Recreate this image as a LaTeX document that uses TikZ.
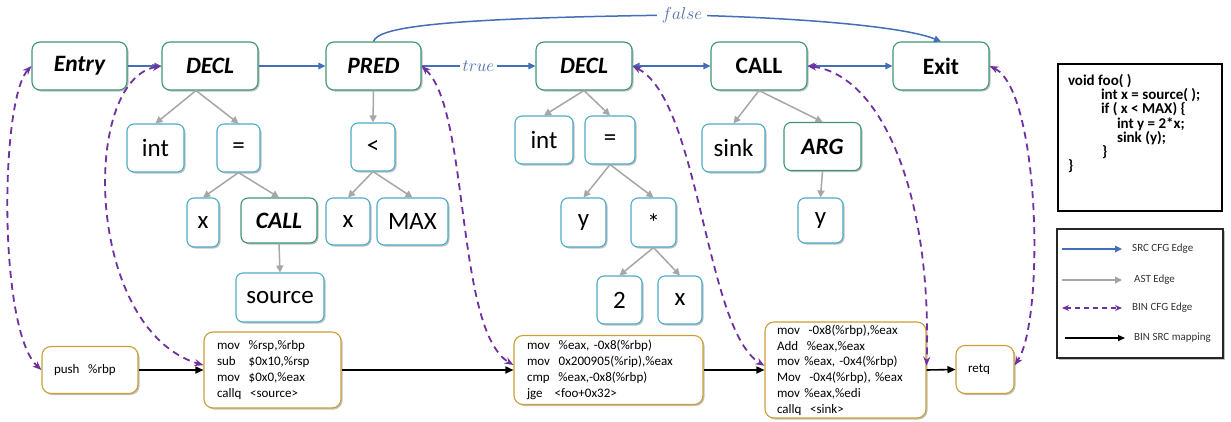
\documentclass[tikz,border=0pt]{standalone}
\usepackage{fontspec}
\setmainfont{Carlito}
\usetikzlibrary{arrows.meta,shadows}
\definecolor{srcblue}{RGB}{68,110,185}
\definecolor{astgray}{RGB}{166,166,166}
\definecolor{binpurple}{RGB}{112,48,160}
\definecolor{cfggreen}{RGB}{60,150,115}
\definecolor{leafcyan}{RGB}{75,172,198}
\definecolor{asmgold}{RGB}{200,160,55}
\definecolor{lblblue}{RGB}{80,110,165}
\tikzset{
  shad/.style={drop shadow={shadow xshift=1.5pt,shadow yshift=-1.5pt,opacity=0.35,fill=black!70}},
  cfgbase/.style={draw=cfggreen,line width=1.1pt,rounded corners=8pt,fill=white,inner sep=0pt,minimum height=48pt,shad},
  cfgit/.style={cfgbase,font=\fontsize{23.5}{27}\selectfont\bfseries\itshape},
  cfgup/.style={cfgbase,font=\fontsize{23.5}{27}\selectfont\bfseries},
  leaf/.style={draw=leafcyan,line width=1.1pt,rounded corners=7pt,fill=white,inner sep=0pt,minimum height=48pt,font=\fontsize{25}{29}\selectfont,shad},
  astit/.style={leaf,draw=cfggreen,font=\fontsize{23.5}{27}\selectfont\bfseries\itshape},
  asm/.style={draw=asmgold,line width=1.1pt,rounded corners=9pt,fill=white,inner sep=0pt,align=left,font=\fontsize{13}{15.8}\selectfont,shad},
  srce/.style={draw=srcblue,line width=1.5pt,>={Triangle[length=7pt,width=6.5pt]},->},
  srcboth/.style={srce,<->},
  aste/.style={draw=astgray,line width=1.5pt,>={Triangle[length=7pt,width=7pt]},->},
  bine/.style={draw=binpurple,line width=1.8pt,dash pattern=on 7pt off 5pt,>={Stealth[length=9pt,width=7pt]},<->},
  bsrc/.style={draw=black,line width=1.6pt,>={Triangle[length=8pt,width=7pt]},->},
  lbl/.style={text=lblblue,font=\fontsize{19}{22}\selectfont,fill=white,inner sep=3pt},
  legtxt/.style={anchor=west,inner sep=0pt,text=black!80,font=\fontsize{11}{12}\selectfont},
}
\begin{document}
\begin{tikzpicture}[x=1pt,y=-1pt]
\useasboundingbox (0,0) rectangle (1231,421);

% CFG nodes (top row)
\node[cfgit,minimum width=95pt] (entry) at (79.5,66) {Entry};
\node[cfgit,minimum width=96pt] (decl1) at (210,66) {DECL};
\node[cfgit,minimum width=95pt] (pred) at (373.5,66) {PRED};
\node[cfgit,minimum width=96pt] (decl2) at (584,66) {DECL};
\node[cfgup,minimum width=96pt] (call1) at (759,66) {CALL};
\node[cfgup,minimum width=96pt] (exit) at (941,66) {Exit};

% AST nodes
\node[leaf,minimum width=57pt] (int1) at (155.5,148) {int};
\node[leaf,minimum width=43pt] (eq1) at (238.5,148) {=};
\node[leaf,minimum width=44pt] (lt) at (373,147) {<};
\node[leaf,minimum width=58pt] (int2) at (544,140) {int};
\node[leaf,minimum width=50pt] (eq2) at (610,140) {=};
\node[leaf,minimum width=63pt] (sink) at (733.5,148) {sink};
\node[astit,minimum width=77pt] (arg) at (822.5,146.5) {ARG};

\node[leaf,minimum width=32pt,minimum height=49pt] (x1) at (203,222.5) {x};
\node[astit,minimum width=76pt,minimum height=45pt] (call2) at (279,220.5) {CALL};
\node[leaf,minimum width=44pt,minimum height=47pt] (x2) at (348,221.5) {x};
\node[leaf,minimum width=71pt,minimum height=47pt] (max) at (412.5,221.5) {MAX};
\node[leaf,minimum width=45pt,minimum height=49pt] (y1) at (583.5,222.5) {y};
\node[leaf,minimum width=45pt,minimum height=49pt] (star) at (653.5,222.5) {*};
\node[leaf,minimum width=45pt,minimum height=45pt] (y2) at (820.5,220.5) {y};

\node[leaf,minimum width=88pt,minimum height=49pt] (source) at (280,297.5) {source};
\node[leaf,minimum width=45pt,minimum height=48pt] (two) at (619.5,300) {2};
\node[leaf,minimum width=44pt,minimum height=48pt] (x3) at (680,300) {x};

% binary blocks
\node[asm,minimum width=96pt,minimum height=47pt,text width=72pt] (push) at (90,370) {push\ \ \%rbp};
\node[asm,minimum width=137pt,minimum height=76pt,text width=111pt] (box2) at (272.5,370)
  {mov\ \ \%rsp,\%rbp\\ sub\hspace{13pt}\$0x10,\%rsp\\ mov\ \ \$0x0,\%eax\\ callq\ \ <source>};
\node[asm,minimum width=189pt,minimum height=69pt,text width=163pt] (box3) at (608.5,370)
  {mov\ \ \%eax, -0x8(\%rbp)\\ mov\ \ 0x200905(\%rip),\%eax\\ cmp\ \ \%eax,-0x8(\%rbp)\\ jge\hspace{12pt}<foo+0x32>};
\node[asm,minimum width=161pt,minimum height=96pt,text width=137pt] (box4) at (845.5,370)
  {mov\ \ -0x8(\%rbp),\%eax\\ Add\ \ \%eax,\%eax\\ mov \%eax, -0x4(\%rbp)\\ Mov\ \ -0x4(\%rbp), \%eax\\ mov \%eax,\%edi\\ callq\ \ <sink>};
\node[asm,minimum width=58pt,minimum height=48pt,text width=34pt] (retq) at (985,369.5) {retq};

% SRC CFG edges
\draw[srce] (entry) -- (decl1);
\draw[srce] (decl1) -- (pred);
\draw[srce] (pred) -- node[lbl] {$true$} (decl2);
\draw[srcboth] (decl2) -- (call1);
\draw[srcboth] (call1) -- (exit);
\coordinate (fpeak) at (682,15);
\draw[srce] (pred.north) .. controls (378,28) and (430,18) .. (fpeak)
  node[lbl,inner sep=5pt] {$false$}
  .. controls (780,17) and (900,25) .. (exit.north);

% AST edges
\draw[aste] ([xshift=-14pt]decl1.south) -- (int1.north);
\draw[aste] ([xshift=-14pt]decl1.south) -- (eq1.north);
\draw[aste] (eq1.south) -- (x1.north);
\draw[aste] (eq1.south) -- (call2.north);
\draw[aste] (call2.south) -- (source.north);
\draw[aste] (pred.south) -- (lt.north);
\draw[aste] (lt.south) -- (x2.north);
\draw[aste] (lt.south) -- (max.north);
\draw[aste] (decl2.south) -- (int2.north);
\draw[aste] (decl2.south) -- (eq2.north);
\draw[aste] (eq2.south) -- (y1.north);
\draw[aste] (eq2.south) -- (star.north);
\draw[aste] (star.south) -- (two.north);
\draw[aste] (star.south) -- (x3.north);
\draw[aste] (call1.south) -- (sink.north);
\draw[aste] (call1.south) -- (arg.north);
\draw[aste] (arg.south) -- (y2.north);

% BIN SRC mapping
\draw[bsrc] (push.east) -- (box2.west);
\draw[bsrc] (box2.east) -- (box3.west);
\draw[bsrc] (box3.east) -- (box4.west);
\draw[bsrc] (box4.east) -- (retq.west);

% BIN CFG edges
\draw[bine] (entry.west) .. controls (0,100) and (-2,330) .. (push.west);
\draw[bine] (decl1.west) .. controls (80,80) and (85,330) .. (box2.176);
\draw[bine] (pred.east) .. controls (470,110) and (455,330) .. (box3.177);
\draw[bine] (decl2.east) .. controls (700,100) and (705,330) .. (box4.177);
\draw[bine] (call1.east) .. controls (880,75) and (932,190) .. (box4.3);
\draw[bine] (exit.east) .. controls (1040,90) and (1045,320) .. (retq.8);

% source code
\node[draw=black,line width=1.1pt,fill=white,inner sep=10pt,font=\fontsize{15}{14.3}\selectfont\bfseries] (code) at (1140,137.5)
  {\parbox[c][127pt][t]{144pt}{void foo( )\\
   \hspace*{33pt}int x = source( );\\
   \hspace*{33pt}if ( x < MAX) \{\\
   \hspace*{49pt}int y = 2*x;\\
   \hspace*{49pt}sink (y);\\
   \hspace*{34pt}\}\\
   \}}};

% legend
\node[draw=black!85,line width=1.3pt,fill=white,minimum width=166pt,minimum height=129pt,inner sep=0pt,shad] (legend) at (1140,293.5) {};
\coordinate (l1a) at (1062,249); \coordinate (l1b) at (1122,249);
\coordinate (l2a) at (1062,280); \coordinate (l2b) at (1122,280);
\coordinate (l3a) at (1062,308); \coordinate (l3b) at (1122,308);
\coordinate (l4a) at (1065,338); \coordinate (l4b) at (1125,338);
\draw[srce,line width=1.2pt] (l1a) -- (l1b);
\draw[aste,line width=1.2pt] (l2a) -- (l2b);
\draw[bine,line width=1.3pt,dash pattern=on 5pt off 4pt,>={Stealth[length=7pt,width=6pt]}] (l3a) -- (l3b);
\draw[bsrc,line width=1.3pt,>={Triangle[length=7pt,width=6pt]}] (l4a) -- (l4b);
\node[legtxt] (t1) at (1132,249) {SRC CFG Edge};
\node[legtxt] (t2) at (1134,280) {AST Edge};
\node[legtxt] (t3) at (1132,308) {BIN CFG Edge};
\node[legtxt] (t4) at (1134,338) {BIN SRC mapping};
\end{tikzpicture}
\end{document}
